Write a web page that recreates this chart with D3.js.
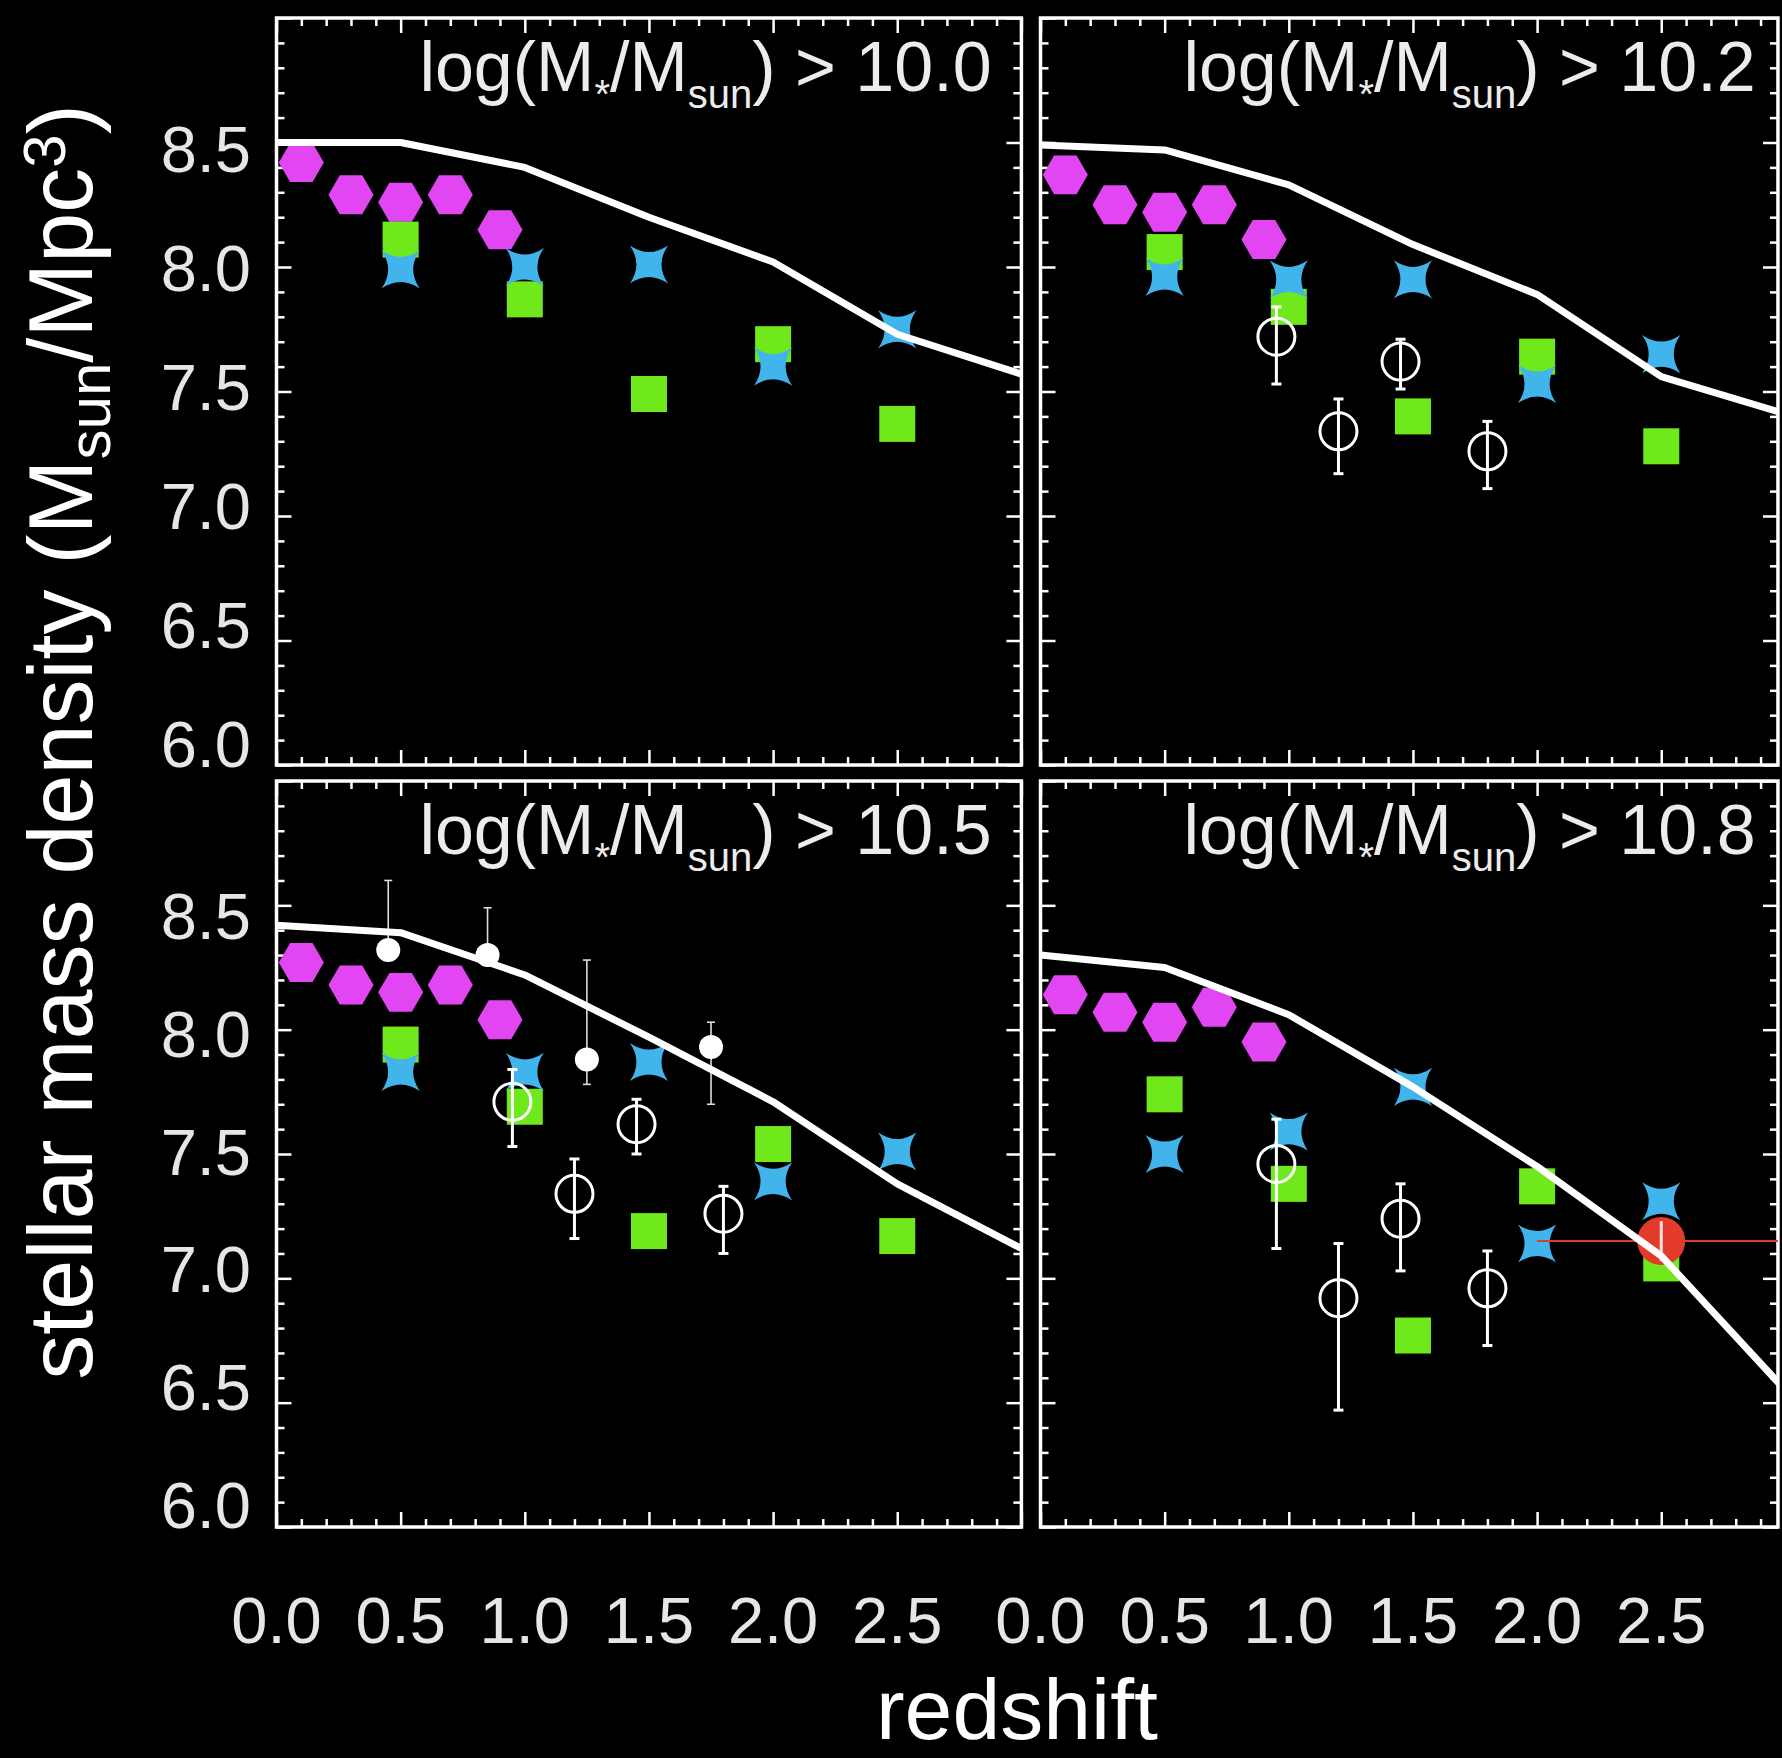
<!DOCTYPE html>
<html><head><meta charset="utf-8">
<script src="https://cdn.jsdelivr.net/npm/d3@7"></script>
<style>html,body{margin:0;padding:0;background:#000;} svg{display:block;}</style>
</head><body>
<svg id="c" width="1782" height="1758"></svg>
<script>
// ---------------- data ----------------
const thresholds = ["10.0", "10.2", "10.5", "10.8"];
const yTickLabels = ["6.0", "6.5", "7.0", "7.5", "8.0", "8.5"];
const xTickLabels = ["0.0", "0.5", "1.0", "1.5", "2.0", "2.5"];

// model curve (white line)
const modelZ = [0, 0.5, 1.0, 1.5, 2.0, 2.5, 3.0];
const model1 = [8.50, 8.50, 8.40, 8.20, 8.02, 7.73, 7.57];
const model2 = [8.49, 8.47, 8.33, 8.09, 7.89, 7.56, 7.41];
const model3 = [8.42, 8.39, 8.22, 7.97, 7.71, 7.38, 7.12];
const model4 = [8.30, 8.25, 8.06, 7.77, 7.45, 7.09, 6.55];

// magenta hexagons
const hexZ = [0.1, 0.3, 0.5, 0.7, 0.9];
const hex1 = [8.42, 8.29, 8.26, 8.29, 8.15];
const hex2 = [8.37, 8.25, 8.22, 8.25, 8.11];
const hex3 = [8.27, 8.18, 8.15, 8.18, 8.04];
const hex4 = [8.14, 8.07, 8.03, 8.09, 7.95];

// green squares
const sqZ = [0.5, 1.0, 1.5, 2.0, 2.5];
const sq1 = [8.11, 7.87, 7.49, 7.69, 7.37];
const sq2 = [8.06, 7.84, 7.40, 7.64, 7.28];
const sq3 = [7.94, 7.69, 7.19, 7.54, 7.17];
const sq4 = [7.74, 7.38, 6.77, 7.37, 7.06];

// blue stars
const starZ = [0.5, 1.0, 1.5, 2.0, 2.5];
const star1 = [7.99, 8.00, 8.01, 7.60, 7.75];
const star2 = [7.96, 7.95, 7.95, 7.53, 7.65];
const star3 = [7.83, 7.83, 7.87, 7.39, 7.51];
const star4 = [7.50, 7.59, 7.77, 7.14, 7.31];

// open circles with error bars (panels 2-4)
const openZ = [0.95, 1.2, 1.45, 1.8];
const open2 = [7.72, 7.34, 7.62, 7.26];
const open2Hi = [0.12, 0.13, 0.09, 0.12];
const open2Lo = [0.19, 0.17, 0.11, 0.15];
const open3 = [7.71, 7.34, 7.62, 7.26];
const open3Hi = [0.13, 0.14, 0.10, 0.11];
const open3Lo = [0.18, 0.18, 0.12, 0.16];
const open4 = [7.46, 6.92, 7.24, 6.96];
const open4Hi = [0.18, 0.22, 0.14, 0.15];
const open4Lo = [0.34, 0.45, 0.21, 0.23];

// small filled white circles (panel 3)
const fillZ = [0.45, 0.85, 1.25, 1.75];
const fill3 = [8.32, 8.30, 7.88, 7.93];
const fill3Hi = [0.28, 0.19, 0.40, 0.10];
const fill3Lo = [0.00, 0.00, 0.10, 0.23];

// red point (panel 4)
const redZ = [2.5];
const red4 = [7.15];
const red4Zlo = [2.0];
const red4Zhi = [3.0];
const red4Err = [0.08];

// ---------------- drawing ----------------
const W = 1782, H = 1758;
const FONT = "'Liberation Sans', Arial, Helvetica, sans-serif";
const C_HEX = "#e246f2", C_SQ = "#6fe81c", C_STAR = "#42b4ec", C_RED = "#e23b2c";

const svg = d3.select("#c");
svg.append("rect").attr("width", W).attr("height", H).attr("fill", "#000");

const PXU = 248.3;
const cols = [
  {x0: 276.5, zMax: 3.0},
  {x0: 1040.5, zMax: 2.97}
];
const rows = [
  {yTop: 18, yBot: 765, lab: [767, 172]},
  {yTop: 781, yBot: 1527, lab: [1528, 939]}
];

const panels = [
  {r: 0, c: 0, thr: thresholds[0], model: model1, hex: hex1, sq: sq1, star: star1},
  {r: 0, c: 1, thr: thresholds[1], model: model2, hex: hex2, sq: sq2, star: star2,
   open: open2, openHi: open2Hi, openLo: open2Lo},
  {r: 1, c: 0, thr: thresholds[2], model: model3, hex: hex3, sq: sq3, star: star3,
   open: open3, openHi: open3Hi, openLo: open3Lo, fill: fill3, fillHi: fill3Hi, fillLo: fill3Lo},
  {r: 1, c: 1, thr: thresholds[3], model: model4, hex: hex4, sq: sq4, star: star4,
   open: open4, openHi: open4Hi, openLo: open4Lo, red: red4}
];

const hexPath = (r) => "M" + d3.range(6).map(i => [r*Math.cos(i*Math.PI/3), r*Math.sin(i*Math.PI/3)].map(v=>v.toFixed(2)).join(",")).join("L") + "Z";
const starPath = (R, c) => {
  const t = R/Math.SQRT2;
  return `M${t},${-t}Q${c},0 ${t},${t}Q0,${c} ${-t},${t}Q${-c},0 ${-t},${-t}Q0,${-c} ${t},${-t}Z`;
};

const majorZ = d3.range(0, 3.0001, 0.5);
const minorZAll = d3.range(0, 31).map(i => i/10).filter(v => Math.abs(v*2 - Math.round(v*2)) > 1e-6);
const majorY = d3.range(6, 9.0001, 0.5);
const minorY = d3.range(60, 91).map(i => i/10).filter(v => Math.abs(v*2 - Math.round(v*2)) > 1e-6);

panels.forEach((p, idx) => {
  const col = cols[p.c], row = rows[p.r];
  const x = d3.scaleLinear().domain([0, col.zMax]).range([col.x0, col.x0 + col.zMax*PXU]);
  const y = d3.scaleLinear().domain([6, 9]).range([row.yBot, row.yTop]);
  const g = svg.append("g");
  const [xa, xb] = x.range(), [yb, ya] = y.range();

  const clipId = "clip" + idx;
  svg.append("clipPath").attr("id", clipId).append("rect")
    .attr("x", xa).attr("y", ya).attr("width", xb - xa).attr("height", yb - ya);

  // ticks (inward, on all four sides)
  const majZ = majorZ.filter(v => v <= col.zMax + 1e-9);
  const minZ = minorZAll.filter(v => v <= col.zMax + 1e-9);
  const tk = (gen, vals, size, tr) => {
    const a = g.append("g").attr("transform", tr)
      .call(gen.tickValues(vals).tickSize(size).tickFormat(""));
    a.select(".domain").remove();
    a.selectAll("line").attr("stroke", "#fff").attr("stroke-width", 2.5);
  };
  tk(d3.axisRight(y), majorY, 15, `translate(${xa},0)`);
  tk(d3.axisRight(y), minorY, 8, `translate(${xa},0)`);
  tk(d3.axisLeft(y), majorY, 15, `translate(${xb},0)`);
  tk(d3.axisLeft(y), minorY, 8, `translate(${xb},0)`);
  tk(d3.axisBottom(x), majZ, 15, `translate(0,${ya})`);
  tk(d3.axisBottom(x), minZ, 8, `translate(0,${ya})`);
  tk(d3.axisTop(x), majZ, 15, `translate(0,${yb})`);
  tk(d3.axisTop(x), minZ, 8, `translate(0,${yb})`);

  // frame
  g.append("rect").attr("x", xa).attr("y", ya).attr("width", xb - xa).attr("height", yb - ya)
    .attr("fill", "none").attr("stroke", "#fff").attr("stroke-width", 3.5);

  // hexagons
  g.selectAll(".hex").data(hexZ.map((z, i) => [z, p.hex[i]])).join("path")
    .attr("d", hexPath(22.5)).attr("fill", C_HEX)
    .attr("transform", d => `translate(${x(d[0])},${y(d[1])})`);

  // squares
  g.selectAll(".sq").data(sqZ.map((z, i) => [z, p.sq[i]])).join("rect")
    .attr("x", d => x(d[0]) - 18).attr("y", d => y(d[1]) - 18)
    .attr("width", 36).attr("height", 36).attr("fill", C_SQ);

  // stars
  g.selectAll(".star").data(starZ.map((z, i) => [z, p.star[i]])).join("path")
    .attr("d", starPath(27, 6)).attr("fill", C_STAR)
    .attr("transform", d => `translate(${x(d[0])},${y(d[1])})`);

  // open circles with error bars
  if (p.open) {
    const od = openZ.map((z, i) => ({z, v: p.open[i], hi: p.open[i] + p.openHi[i], lo: p.open[i] - p.openLo[i]}));
    const eg = g.append("g").attr("stroke", "#fff").attr("stroke-width", 3).attr("fill", "none");
    eg.selectAll(".ev").data(od).join("line")
      .attr("x1", d => x(d.z)).attr("x2", d => x(d.z)).attr("y1", d => y(d.hi)).attr("y2", d => y(d.lo));
    eg.selectAll(".ct").data(od).join("line")
      .attr("x1", d => x(d.z) - 5).attr("x2", d => x(d.z) + 5).attr("y1", d => y(d.hi)).attr("y2", d => y(d.hi));
    eg.selectAll(".cb").data(od).join("line")
      .attr("x1", d => x(d.z) - 5).attr("x2", d => x(d.z) + 5).attr("y1", d => y(d.lo)).attr("y2", d => y(d.lo));
    eg.selectAll(".oc").data(od).join("circle")
      .attr("cx", d => x(d.z)).attr("cy", d => y(d.v)).attr("r", 18.5);
  }

  // filled white circles with thin error bars
  if (p.fill) {
    const fd = fillZ.map((z, i) => ({z, v: p.fill[i], hi: p.fill[i] + p.fillHi[i], lo: p.fill[i] - p.fillLo[i]}));
    const fg = g.append("g").attr("stroke", "#ddd").attr("stroke-width", 1.6);
    fg.selectAll(".ev").data(fd).join("line")
      .attr("x1", d => x(d.z)).attr("x2", d => x(d.z)).attr("y1", d => y(d.hi)).attr("y2", d => y(d.lo));
    fg.selectAll(".ct").data(fd).join("line")
      .attr("x1", d => x(d.z) - 4).attr("x2", d => x(d.z) + 4).attr("y1", d => y(d.hi)).attr("y2", d => y(d.hi));
    fg.selectAll(".cb").data(fd.filter(d => d.lo < d.v)).join("line")
      .attr("x1", d => x(d.z) - 4).attr("x2", d => x(d.z) + 4).attr("y1", d => y(d.lo)).attr("y2", d => y(d.lo));
    g.selectAll(".fc").data(fd).join("circle")
      .attr("cx", d => x(d.z)).attr("cy", d => y(d.v)).attr("r", 12).attr("fill", "#fff");
  }

  // red point
  if (p.red) {
    const rd = redZ.map((z, i) => ({z, v: p.red[i], zlo: red4Zlo[i], zhi: red4Zhi[i], e: red4Err[i]}));
    g.append("g").attr("clip-path", `url(#${clipId})`).selectAll("line").data(rd).join("line")
      .attr("x1", d => x(d.zlo)).attr("x2", d => x(d.zhi)).attr("y1", d => y(d.v)).attr("y2", d => y(d.v))
      .attr("stroke", C_RED).attr("stroke-width", 2);
    g.selectAll(".rc").data(rd).join("circle")
      .attr("cx", d => x(d.z)).attr("cy", d => y(d.v)).attr("r", 24).attr("fill", C_RED);
    g.selectAll(".re").data(rd).join("line")
      .attr("x1", d => x(d.z)).attr("x2", d => x(d.z)).attr("y1", d => y(d.v + d.e)).attr("y2", d => y(d.v - d.e))
      .attr("stroke", "#fbe3e0").attr("stroke-width", 3);
  }

  // model line
  const line = d3.line().x(d => x(d[0])).y(d => y(d[1]));
  g.append("path").attr("clip-path", `url(#${clipId})`)
    .datum(modelZ.map((z, i) => [z, p.model[i]]))
    .attr("d", line).attr("fill", "none").attr("stroke", "#fff").attr("stroke-width", 7)
    .attr("stroke-linejoin", "round");

  // panel title
  const t = g.append("text").attr("x", x(2.88)).attr("y", y(8.705))
    .attr("text-anchor", "end").attr("font-family", FONT).attr("font-size", 70).attr("fill", "#ececec");
  t.append("tspan").text("log(M");
  t.append("tspan").attr("font-size", 40).attr("dy", 17).text("*");
  t.append("tspan").attr("dy", -17).text("/M");
  t.append("tspan").attr("font-size", 40).attr("dy", 17).text("sun");
  t.append("tspan").attr("dy", -17).text(") > " + p.thr);

  // y tick labels (left column)
  if (p.c === 0) {
    const ly = d3.scaleLinear().domain([6, 8.5]).range(row.lab);
    g.selectAll(".yl").data(yTickLabels).join("text")
      .attr("x", 251).attr("y", d => ly(+d)).attr("text-anchor", "end")
      .attr("font-family", FONT).attr("font-size", 65).attr("fill", "#e6e6e6").text(d => d);
  }
  // x tick labels (bottom row)
  if (p.r === 1) {
    g.selectAll(".xl").data(xTickLabels).join("text")
      .attr("x", d => x(+d)).attr("y", 1643).attr("text-anchor", "middle")
      .attr("font-family", FONT).attr("font-size", 65).attr("fill", "#e6e6e6").text(d => d);
  }
});

// axis titles
svg.append("text").attr("x", 1017).attr("y", 1739).attr("text-anchor", "middle")
  .attr("font-family", FONT).attr("font-size", 86).attr("fill", "#fff").text("redshift");

const yt = svg.append("text").attr("transform", "translate(92,742) rotate(-90)")
  .attr("text-anchor", "middle").attr("font-family", FONT).attr("font-size", 90).attr("fill", "#fff");
yt.append("tspan").text("stellar mass density (M");
yt.append("tspan").attr("font-size", 60).attr("dy", 18).text("sun");
yt.append("tspan").attr("dy", -18).text("/Mpc");
yt.append("tspan").attr("font-size", 60).attr("dy", -27).text("3");
yt.append("tspan").attr("dy", 27).text(")");
</script>
</body></html>
